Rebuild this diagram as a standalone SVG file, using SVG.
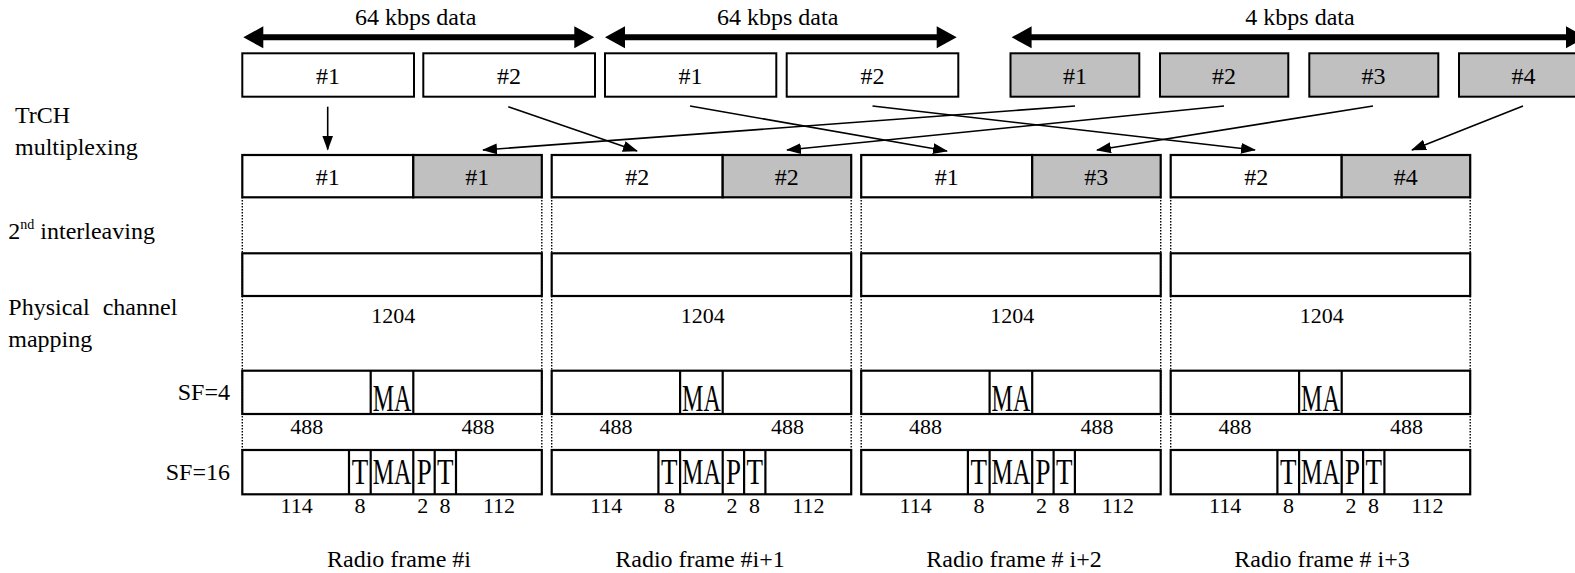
<svg xmlns="http://www.w3.org/2000/svg" width="1575" height="573" viewBox="0 0 1575 573">
<style>
text{font-family:"Liberation Serif","Times New Roman",serif;font-size:24px;fill:#000}
.c{text-anchor:middle}
.e{text-anchor:end}
.n{font-size:22px}
.tp{font-size:27px}
.box{fill:#fff;stroke:#000;stroke-width:2}
.gbox{fill:#c0c0c0;stroke:#000;stroke-width:2}
.row{fill:#fff;stroke:#000;stroke-width:2.2}
.grow{fill:#c0c0c0;stroke:#000;stroke-width:2.2}
.div{stroke:#000;stroke-width:2.2}
.dot{stroke:#000;stroke-width:1.4;stroke-dasharray:1.5 1.5}
.ln{fill:none;stroke:#000;stroke-width:1.6;marker-end:url(#ah)}
.dbl{fill:#000}
</style>
<defs>
<marker id="ah" markerUnits="userSpaceOnUse" markerWidth="16" markerHeight="12" refX="14" refY="5.5" orient="auto">
<path d="M0,0 L15,5.5 L0,11 z" fill="#000"/>
</marker>
<g id="frame">
<line class="dot" x1="0" y1="197" x2="0" y2="450"/>
<line class="dot" x1="299.5" y1="197" x2="299.5" y2="450"/>
<rect class="row" x="0" y="155" width="171" height="42.3"/>
<rect class="grow" x="171" y="155" width="128.5" height="42.3"/>
<rect class="row" x="0" y="253.3" width="299.5" height="42.7"/>
<text class="c n" x="151" y="322.7">1204</text>
<rect class="row" x="0" y="370.7" width="299.5" height="43.3"/>
<line class="div" x1="128.4" y1="370.7" x2="128.4" y2="414"/>
<line class="div" x1="171" y1="370.7" x2="171" y2="414"/>
<text class="c" transform="translate(149.7,410.5) scale(1,1.55)">MA</text>
<text class="c n" x="64.4" y="433.5">488</text>
<text class="c n" x="235.7" y="433.5">488</text>
<rect class="row" x="0" y="450" width="299.5" height="44.3"/>
<line class="div" x1="106.7" y1="450" x2="106.7" y2="494.3"/>
<line class="div" x1="128.4" y1="450" x2="128.4" y2="494.3"/>
<line class="div" x1="171" y1="450" x2="171" y2="494.3"/>
<line class="div" x1="192.4" y1="450" x2="192.4" y2="494.3"/>
<line class="div" x1="213.7" y1="450" x2="213.7" y2="494.3"/>
<text class="c tp" transform="translate(117.6,484) scale(1,1.35)">T</text>
<text class="c" transform="translate(149.7,484) scale(1,1.5)">MA</text>
<text class="c tp" transform="translate(181.9,484) scale(1,1.35)">P</text>
<text class="c tp" transform="translate(203,484) scale(1,1.35)">T</text>
<text class="c n" x="54.4" y="513">114</text>
<text class="c n" x="117.7" y="513">8</text>
<text class="c n" x="180.4" y="513">2</text>
<text class="c n" x="202.7" y="513">8</text>
<text class="c n" x="256.7" y="513">112</text>
</g>
</defs>

<g id="labels">
<text x="15" y="123.3">TrCH</text>
<text x="15" y="155">multiplexing</text>
<text x="8.3" y="239.3">2<tspan font-size="14" dy="-10">nd</tspan><tspan dy="10"> interleaving</tspan></text>
<text x="8.3" y="315">Physical <tspan x="102.7">channel</tspan></text>
<text x="8.3" y="346.7">mapping</text>
<text class="e" x="230" y="400">SF=4</text>
<text class="e" x="230" y="480">SF=16</text>
</g>

<g id="rates">
<polygon class="dbl" points="243.3,37.3 263.3,26.3 263.3,34.3 574.3,34.3 574.3,26.3 594.3,37.3 574.3,48.3 574.3,40.3 263.3,40.3 263.3,48.3"/>
<text class="c" x="415.7" y="24.5">64 kbps data</text>
<polygon class="dbl" points="605,37.3 625,26.3 625,34.3 936.7,34.3 936.7,26.3 956.7,37.3 936.7,48.3 936.7,40.3 625,40.3 625,48.3"/>
<text class="c" x="777.7" y="24.5">64 kbps data</text>
<polygon class="dbl" points="1011.6,37.3 1031.6,26.3 1031.6,34.3 1566,34.3 1566,26.3 1586,37.3 1566,48.3 1566,40.3 1031.6,40.3 1031.6,48.3"/>
<text class="c" x="1300" y="24.5">4 kbps data</text>
</g>

<g id="tb-a1"><rect class="box" x="242.3" y="53.3" width="171.7" height="43.4"/><text class="c" x="328" y="84">#1</text></g>
<g id="tb-a2"><rect class="box" x="423.3" y="53.3" width="171.7" height="43.4"/><text class="c" x="509" y="84">#2</text></g>
<g id="tb-b1"><rect class="box" x="605" y="53.3" width="171.3" height="43.4"/><text class="c" x="690.5" y="84">#1</text></g>
<g id="tb-b2"><rect class="box" x="786.7" y="53.3" width="171.6" height="43.4"/><text class="c" x="872.5" y="84">#2</text></g>
<g id="tb-c1"><rect class="gbox" x="1010.5" y="53.3" width="128.8" height="43.4"/><text class="c" x="1075" y="84">#1</text></g>
<g id="tb-c2"><rect class="gbox" x="1160" y="53.3" width="128.3" height="43.4"/><text class="c" x="1224" y="84">#2</text></g>
<g id="tb-c3"><rect class="gbox" x="1309.3" y="53.3" width="129" height="43.4"/><text class="c" x="1373.5" y="84">#3</text></g>
<g id="tb-c4"><rect class="gbox" x="1459" y="53.3" width="130" height="43.4"/><text class="c" x="1523.5" y="84">#4</text></g>

<g id="frame1">
<use href="#frame" x="242.3"/>
<text class="c" x="327.8" y="185">#1</text><text class="c" x="477.3" y="185">#1</text>
<text class="c" x="399" y="567">Radio frame #i</text>
</g>
<g id="frame2">
<use href="#frame" x="551.7"/>
<text class="c" x="637.2" y="185">#2</text><text class="c" x="786.7" y="185">#2</text>
<text class="c" x="700" y="567">Radio frame #i+1</text>
</g>
<g id="frame3">
<use href="#frame" x="861.2"/>
<text class="c" x="946.7" y="185">#1</text><text class="c" x="1096.2" y="185">#3</text>
<text class="c" x="1014" y="567">Radio frame # i+2</text>
</g>
<g id="frame4">
<use href="#frame" x="1170.7"/>
<text class="c" x="1256.2" y="185">#2</text><text class="c" x="1405.7" y="185">#4</text>
<text class="c" x="1322" y="567">Radio frame # i+3</text>
</g>

<g id="connectors">
<path class="ln" d="M327.7,106.7 L327.7,149.5"/>
<path class="ln" d="M508.3,106.7 L637,151"/>
<path class="ln" d="M690,106 L947,151"/>
<path class="ln" d="M872.5,106 L1255,150"/>
<path class="ln" d="M1075,106 L483,150"/>
<path class="ln" d="M1224,106 L787,150"/>
<path class="ln" d="M1373,106 L1097,150"/>
<path class="ln" d="M1523,106 L1412,150"/>
</g>
</svg>
